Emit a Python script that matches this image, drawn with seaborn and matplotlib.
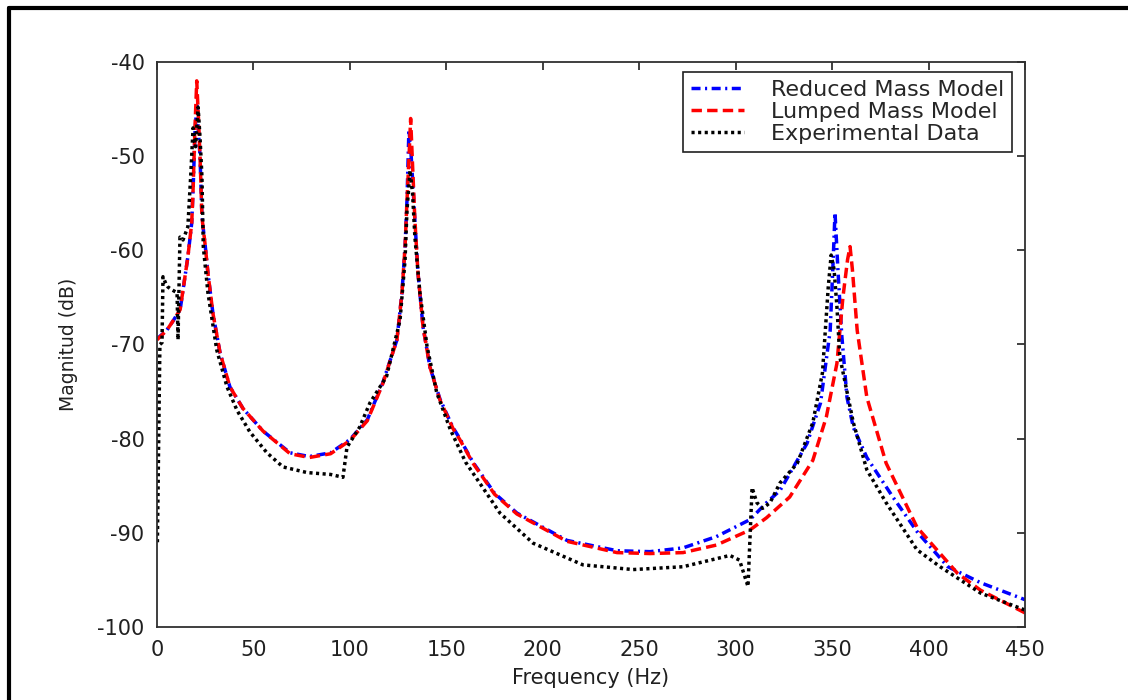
import pandas as pd
import seaborn as sns
import matplotlib.pyplot as plt
from matplotlib.lines import Line2D

# values
freq_reduced = [0, 5, 8, 12, 14.5, 16, 18, 18.7, 19.7, 20.6, 21.5, 22.3, 23.3, 24.9, 26.4, 29, 32.7,
                37.8, 44.6, 55, 69, 79, 90, 100, 109, 117, 124.4, 127, 128.6, 129.6, 130.6, 131.5,
                132.5, 133.7, 135.3, 137.9, 141.5, 146.7, 153.4, 157, 163.8, 175, 186.6, 212.5, 238.5,
                255.6, 272.7, 290, 307.4, 316, 323, 337, 344, 349, 350.5, 351.5, 353, 355, 357.7,
                361, 368, 381.5, 394.5, 410, 427, 450]
mag_reduced = [-69.4, -68.5, -67.6, -66.3, -62.8, -60.7, -57.1, -53.6, -47.5, -44.6, -47.5, -50,
               -56.5, -59.3, -62.4, -66.7, -70.9, -74.5, -76.8, -79.2, -81.5, -81.9, -81.5, -80.1,
               -78, -74.1, -69.5, -64.5, -59.6, -54.7, -47.2, -49, -52.5, -56.8, -62.4, -68.1,
               -72.4, -75.8, -78.8, -80, -82.5, -85.8, -87.9, -90.8, -91.9, -92, -91.6, -90.4,
               -88.6, -86.8, -85.5, -80.5, -76.2, -68.5, -61.3, -56, -62, -69, -75.6, -78.8,
               -82, -86.2, -90, -93.6, -95.3, -97.1]

freq_lumped = [0, 5, 8, 12, 14.5, 16, 18, 18.7, 19.7, 20.6, 21.5, 22.3, 23.3, 24.9, 26.4, 29, 32.7,
               37.8, 44.6, 55, 69, 79, 90, 100, 109, 117, 124.4, 127, 128.6, 129.6, 130.6, 131.5,
               132.5, 133.7, 135.3, 137.9, 141.5, 146.7, 153.4, 157, 163.8, 175, 186.6, 212.5, 238.5,
               255.6, 272.7, 290, 307.4, 316, 328, 340, 347, 352.5, 355.6, 358, 359.3, 360.5, 363,
               368, 378, 394, 415, 427, 450]
mag_lumped = [-69.5, -68.5, -67.6, -66.3, -62.8, -60.7, -57.1, -53.6, -46.9, -42, -46, -50,
              -56.5, -59.3, -62.4, -66.7, -70.9, -74.5, -76.8, -79.2, -81.6, -82, -81.6, -80.2,
              -78.1, -74.2, -69.5, -64.5, -59.6, -54.7, -50.4, -46, -51, -56.8, -62.4, -68.1,
              -72.4, -75.9, -78.9, -80.1, -82.6, -85.9, -88, -90.9, -92.1, -92.2, -92.1, -91.3,
              -89.7, -88.4, -86.2, -82.3, -77.7, -72, -65, -61, -59.6, -62, -68.5,
              -75.6, -82.6, -89.4, -94.3, -96.1, -98.5]

freq_exp = [0.2, 1.5, 2.6, 3.1, 4.5, 5.7, 7.8, 10.4, 10.9, 11.9, 13.5, 16, 17.5, 18.7, 20, 21.3,
            22.3, 23.3, 24, 26.4, 31, 36.3, 41.5, 48.2, 57, 65.3, 77.8, 90, 96.4, 98.5, 105,
            110.4, 119, 126, 128.6, 129.6, 131.2, 132.5, 133.7, 136.3, 140, 145, 152, 160,
            177.8, 195, 220.8, 246.8, 272.7, 297, 302, 306.4, 308.5, 311, 314, 317.8, 323, 332,
            340, 345, 348, 349.5, 351, 352.5, 354, 361, 368, 378, 394, 406, 427, 450]
mag_exp = [-91, -70, -69.8, -62.8, -63.5, -63.9, -64.2, -64.5, -69.5, -58.6, -58.9, -57.5, -52,
           -47, -49, -44.8, -48, -52.2, -59.6, -64.5, -70.6, -74.5, -77, -79.3, -81.5, -83,
           -83.6, -83.8, -84.1, -80.9, -78.8, -76.2, -73.4, -67.4, -61, -55.7, -51.5, -54,
           -58.6, -64.5, -70.2, -75.1, -79, -82.5, -87.9, -91.1, -93.4, -93.9, -93.6, -92.4,
           -92.9, -95.7, -85.2, -86.8, -87.4, -86.8, -84.7, -82.6, -78.3, -73, -63.9, -60.5,
           -62, -66, -71.3, -78.3, -83.3, -86.8, -91.8, -93.6, -96.4, -98.2]

series = ['Reduced Mass Model', 'Lumped Mass Model', 'Experimental Data']

frames = []
for name, f, m in zip(series, [freq_reduced, freq_lumped, freq_exp],
                      [mag_reduced, mag_lumped, mag_exp]):
    frames.append(pd.DataFrame({'Frequency': f, 'Magnitude': m, 'Series': name}))
data = pd.concat(frames, ignore_index=True)

sns.set_theme(style="white")
plt.rcParams['font.family'] = ['DejaVu Sans']
plt.rcParams['axes.unicode_minus'] = False

fig = plt.figure(figsize=(11.28, 7), dpi=100)
ax = fig.add_axes([157 / 1128, 1 - 627 / 700, 868 / 1128, 565 / 700])

palette = {series[0]: '#0000ff', series[1]: '#ff0000', series[2]: '#000000'}
dashes = {series[0]: (2.6, 1.3, 0.6, 1.3), series[1]: (3.0, 1.5), series[2]: (0.9, 1.0)}
sns.lineplot(data=data, x='Frequency', y='Magnitude', hue='Series', style='Series',
             hue_order=series, style_order=series, palette=palette, dashes=dashes,
             sort=False, estimator=None, lw=2.5, ax=ax)

ax.set_xlim(0, 450)
ax.set_ylim(-100, -40)
ax.set_xticks(range(0, 451, 50))
ax.set_yticks(range(-100, -39, 10))
ax.tick_params(direction='in', top=True, right=True, length=6, width=1.2,
               labelsize=15, pad=9, colors='#202020')
for s in ax.spines.values():
    s.set_color('#303030')
    s.set_linewidth(1.3)
ax.set_xlabel('Frequency (Hz)', fontsize=15, color='#202020', labelpad=6)
ax.set_ylabel('Magnitud (dB)', fontsize=13.5, color='#202020', labelpad=14)

handles, labels = ax.get_legend_handles_labels()
leg = ax.legend(handles, labels, loc='upper right', bbox_to_anchor=(1 - 13 / 868, 1 - 10 / 565),
                borderaxespad=0, fancybox=False, framealpha=1, edgecolor='#202020',
                fontsize=16, handlelength=2.4, handletextpad=1.2, borderpad=0.35,
                labelspacing=0.1)
leg.get_frame().set_linewidth(1.2)

# black frame around the figure (only top and left visible)
fig.add_artist(Line2D([9 / 1128, 9 / 1128], [0, 1 - 8 / 700], transform=fig.transFigure,
                      color='black', lw=3))
fig.add_artist(Line2D([9 / 1128, 1], [1 - 8 / 700, 1 - 8 / 700], transform=fig.transFigure,
                      color='black', lw=3))

fig.savefig('out.png', dpi=100)
